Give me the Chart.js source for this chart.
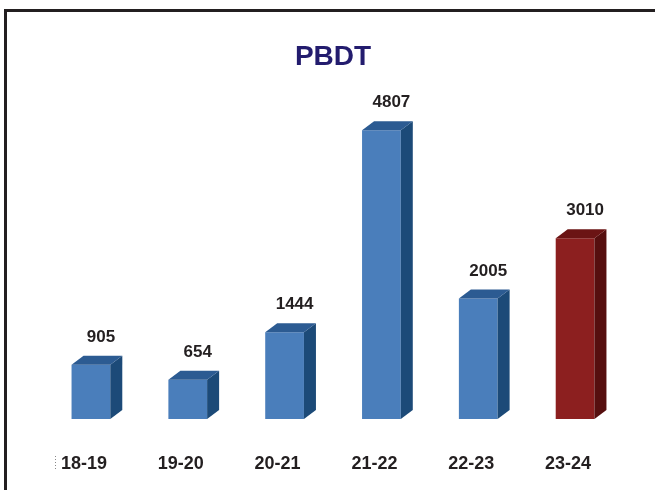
<!DOCTYPE html>
<html>
<head>
<meta charset="utf-8">
<script src="https://cdn.jsdelivr.net/npm/chart.js@4"></script>
<style>
  html, body { margin: 0; padding: 0; background: #fff; }
  #wrap { position: relative; width: 655px; height: 490px; }
  #frame {
    position: absolute; left: 4px; top: 9px; right: 0; bottom: 0;
    border-top: 3px solid #231f20; border-left: 3px solid #231f20;
    pointer-events: none;
  }
</style>
</head>
<body>
<div id="wrap">
  <canvas id="chart" width="655" height="490"></canvas>
  <div id="frame"></div>
</div>
<script>
// dane wykresu
const categories = ['18-19', '19-20', '20-21', '21-22', '22-23', '23-24'];
const pbdt = [905, 654, 1444, 4807, 2005, 3010];

// kolory: niebieski dla lat poprzednich, czerwony dla ostatniego roku
const blue = { front: '#4a7ebb', side: '#1c4a78', top: '#2c5b92' };
const red = { front: '#8c1f1f', side: '#560f0f', top: '#6b1414' };
const pick = i => (i === pbdt.length - 1 ? red : blue);

const FONT = "'Liberation Sans', Arial, sans-serif";
const DX = 12, DY = 9;

// boki i wierzch słupków 3D + etykiety
const bar3d = {
    id: 'bar3d',
    afterDatasetsDraw(chart) {
        const ctx = chart.ctx;
        const meta = chart.getDatasetMeta(0);
        meta.data.forEach((bar, i) => {
            const c = pick(i);
            const l = bar.x - bar.width / 2, r = bar.x + bar.width / 2;
            const t = bar.y, b = bar.base;
            ctx.save();
            ctx.fillStyle = c.side;
            ctx.beginPath();
            ctx.moveTo(r, t); ctx.lineTo(r + DX, t - DY);
            ctx.lineTo(r + DX, b - DY); ctx.lineTo(r, b);
            ctx.closePath(); ctx.fill();
            ctx.fillStyle = c.top;
            ctx.beginPath();
            ctx.moveTo(l, t); ctx.lineTo(l + DX, t - DY);
            ctx.lineTo(r + DX, t - DY); ctx.lineTo(r, t);
            ctx.closePath(); ctx.fill();

            // wartość nad słupkiem
            ctx.fillStyle = '#231f20';
            ctx.font = 'bold 17px ' + FONT;
            ctx.textAlign = 'center';
            ctx.textBaseline = 'alphabetic';
            ctx.fillText(String(pbdt[i]), bar.x + 10, t - 23);

            // etykieta osi X
            ctx.font = 'bold 18px ' + FONT;
            ctx.textBaseline = 'middle';
            ctx.fillText(categories[i], bar.x - 7, 464);
            ctx.restore();
        });
        // drobna kropkowana kreska przy pierwszej etykiecie
        ctx.save();
        ctx.strokeStyle = '#888';
        ctx.setLineDash([1, 2]);
        ctx.beginPath();
        ctx.moveTo(55.5, 456); ctx.lineTo(55.5, 471);
        ctx.stroke();
        ctx.restore();
    }
};

new Chart(document.getElementById('chart'), {
    type: 'bar',
    data: {
        labels: categories,
        datasets: [{
            label: 'PBDT',
            data: pbdt,
            backgroundColor: pbdt.map((v, i) => pick(i).front),
            borderWidth: 0,
            categoryPercentage: 1,
            barPercentage: 0.4
        }]
    },
    options: {
        responsive: false,
        animation: false,
        layout: { padding: { left: 42.5, right: 31.5, top: 0, bottom: 71 } },
        plugins: {
            legend: { display: false },
            tooltip: { enabled: false },
            title: {
                display: true,
                text: 'PBDT',
                color: '#231c6e',
                font: { family: FONT, size: 28, weight: 'bold', lineHeight: 1.2 },
                padding: { top: 40, bottom: 45 }
            }
        },
        scales: {
            x: { display: false },
            y: { display: false, min: 0, max: 5000 }
        }
    },
    plugins: [bar3d]
});
</script>
</body>
</html>
